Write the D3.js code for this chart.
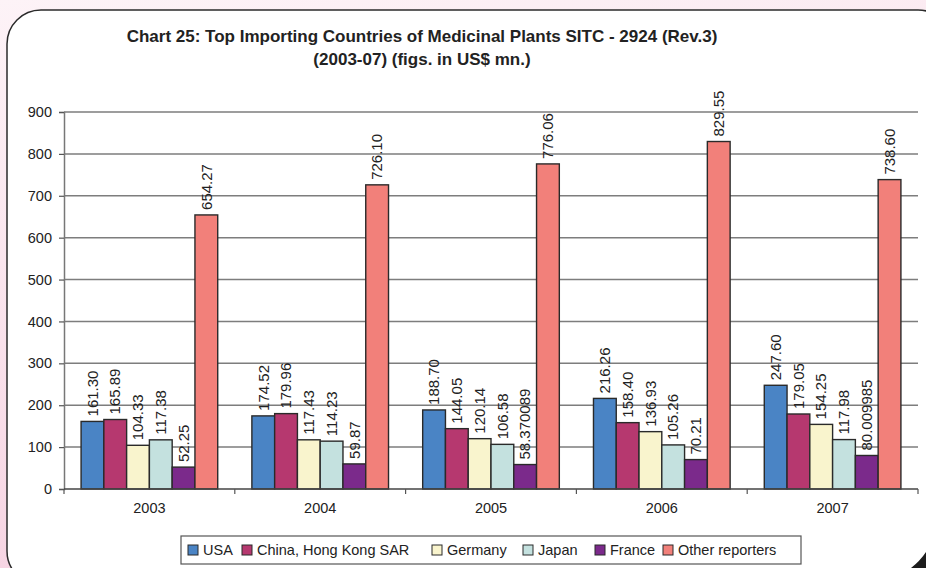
<!DOCTYPE html>
<html>
<head>
<meta charset="utf-8">
<script src="https://cdn.jsdelivr.net/npm/d3@7"></script>
<style>
  html, body { margin: 0; padding: 0; background: #fdf1f6; }
  svg { display: block; font-family: "Liberation Sans", Arial, sans-serif; }
</style>
</head>
<body>
<svg id="chart" width="926" height="568"></svg>
<script>
// Import values, US$ million
const years = ["2003", "2004", "2005", "2006", "2007"];
const seriesNames = ["USA", "China, Hong Kong SAR", "Germany", "Japan", "France", "Other reporters"];
const usa      = [161.30, 174.52, 188.70, 216.26, 247.60];
const chinaHK  = [165.89, 179.96, 144.05, 158.40, 179.05];
const germany  = [104.33, 117.43, 120.14, 136.93, 154.25];
const japan    = [117.38, 114.23, 106.58, 105.26, 117.98];
const france   = [52.25, 59.87, 58.370089, 70.21, 80.009985];
const others   = [654.27, 726.10, 776.06, 829.55, 738.60];
const yTicks   = [0, 100, 200, 300, 400, 500, 600, 700, 800, 900];

const seriesValues = [usa, chinaHK, germany, japan, france, others];
const colors = ["#4a84c5", "#b6386f", "#f9f4cd", "#c4e1df", "#7b2a8b", "#f2807a"];
const FONT = "Liberation Sans, Arial, sans-serif";

const svg = d3.select("#chart");
const W = 926, H = 568;

// Page background and rounded frame
const defs = svg.append("defs");
const bg = defs.append("linearGradient").attr("id", "bg").attr("x1", 0).attr("y1", 0).attr("x2", 0.25).attr("y2", 1);
bg.append("stop").attr("offset", "0%").attr("stop-color", "#fdf3f7");
bg.append("stop").attr("offset", "100%").attr("stop-color", "#f6d3e2");
svg.append("rect").attr("width", W).attr("height", H).attr("fill", "url(#bg)");

svg.append("rect")
  .attr("x", 7).attr("y", 10).attr("width", 945).attr("height", 575)
  .attr("rx", 34).attr("ry", 34)
  .attr("fill", "#ffffff").attr("stroke", "#2b2b2b").attr("stroke-width", 1.5);

svg.append("path")
  .attr("d", "M911,568 Q920,561 926,552 L926,568 Z")
  .attr("fill", "#1c1c1c");

// Title
const title = svg.append("text")
  .attr("text-anchor", "middle")
  .attr("font-size", 17).attr("font-weight", "bold").attr("fill", "#222");
title.append("tspan").attr("x", 422).attr("y", 42).text("Chart 25: Top Importing Countries of Medicinal Plants SITC - 2924 (Rev.3)");
title.append("tspan").attr("x", 422).attr("y", 65).text("(2003-07) (figs. in US$ mn.)");

// Scales
const plot = { left: 64, right: 918, top: 112, bottom: 489 };
const x = d3.scaleBand().domain(years).range([plot.left, plot.right]).padding(0);
const y = d3.scaleLinear().domain([0, 900]).range([plot.bottom, plot.top]);
const inner = d3.scaleBand().domain(d3.range(seriesNames.length))
  .range([0, x.bandwidth()]).paddingInner(0).paddingOuter(0.75);

// Gridlines
svg.append("g").selectAll("line").data(yTicks.filter(d => d > 0)).join("line")
  .attr("x1", plot.left).attr("x2", plot.right)
  .attr("y1", d => y(d)).attr("y2", d => y(d))
  .attr("stroke", "#7d7d7d").attr("stroke-width", 1.5);

// Y axis
const yAxis = svg.append("g").attr("transform", `translate(${plot.left},0)`)
  .call(d3.axisLeft(y).tickValues(yTicks).tickSize(5).tickPadding(7).tickFormat(d3.format("d")));
yAxis.attr("font-family", FONT).attr("font-size", 14.5);
yAxis.select(".domain").attr("stroke", "#777").attr("stroke-width", 1.5);
yAxis.selectAll(".tick line").attr("stroke", "#555").attr("stroke-width", 1.2);
yAxis.selectAll(".tick text").attr("fill", "#222");

// Bars
const rows = [];
seriesValues.forEach((vals, s) => vals.forEach((v, i) => rows.push({ s, year: years[i], v })));

const bars = svg.append("g");
bars.selectAll("rect").data(rows).join("rect")
  .attr("x", d => x(d.year) + inner(d.s))
  .attr("y", d => y(d.v))
  .attr("width", inner.bandwidth())
  .attr("height", d => y(0) - y(d.v))
  .attr("fill", d => colors[d.s])
  .attr("stroke", "#2a2a2a").attr("stroke-width", 1.4);

// X axis
const xAxis = svg.append("g").attr("transform", `translate(0,${plot.bottom})`)
  .call(d3.axisBottom(x).tickSize(0).tickPadding(14));
xAxis.attr("font-family", FONT).attr("font-size", 14.5);
xAxis.select(".domain").remove();
xAxis.selectAll(".tick text").attr("fill", "#222");
svg.append("line").attr("x1", plot.left).attr("x2", plot.right)
  .attr("y1", plot.bottom).attr("y2", plot.bottom)
  .attr("stroke", "#444").attr("stroke-width", 1.5);
const boundaries = years.map(d => x(d)).concat([x(years[years.length - 1]) + x.bandwidth()]);
svg.append("g").selectAll("line").data(boundaries).join("line")
  .attr("x1", d => d).attr("x2", d => d)
  .attr("y1", plot.bottom).attr("y2", plot.bottom + 5)
  .attr("stroke", "#555").attr("stroke-width", 1.2);

// Value labels
const fmt = v => (Math.abs(v * 100 - Math.round(v * 100)) < 1e-6 ? v.toFixed(2) : String(v));
svg.append("g").selectAll("text").data(rows).join("text")
  .attr("transform", d => `translate(${x(d.year) + inner(d.s) + inner.bandwidth() / 2},${y(d.v) - 5}) rotate(-90)`)
  .attr("dy", "0.35em")
  .attr("font-size", 15).attr("fill", "#222")
  .text(d => fmt(d.v));

// Legend
const legend = svg.append("g");
legend.append("rect").attr("x", 181).attr("y", 536).attr("width", 620).attr("height", 28)
  .attr("fill", "#fff").attr("stroke", "#555").attr("stroke-width", 1.2);
const legendX = [188, 242, 432, 523, 595, 663];
const items = legend.selectAll("g.item").data(seriesNames).join("g")
  .attr("class", "item")
  .attr("transform", (d, i) => `translate(${legendX[i]},545)`);
items.append("rect").attr("width", 10).attr("height", 10)
  .attr("fill", (d, i) => colors[i]).attr("stroke", "#2a2a2a").attr("stroke-width", 1);
items.append("text").attr("x", 15).attr("y", 10)
  .attr("font-size", 14.5).attr("fill", "#222").text(d => d);
</script>
</body>
</html>
